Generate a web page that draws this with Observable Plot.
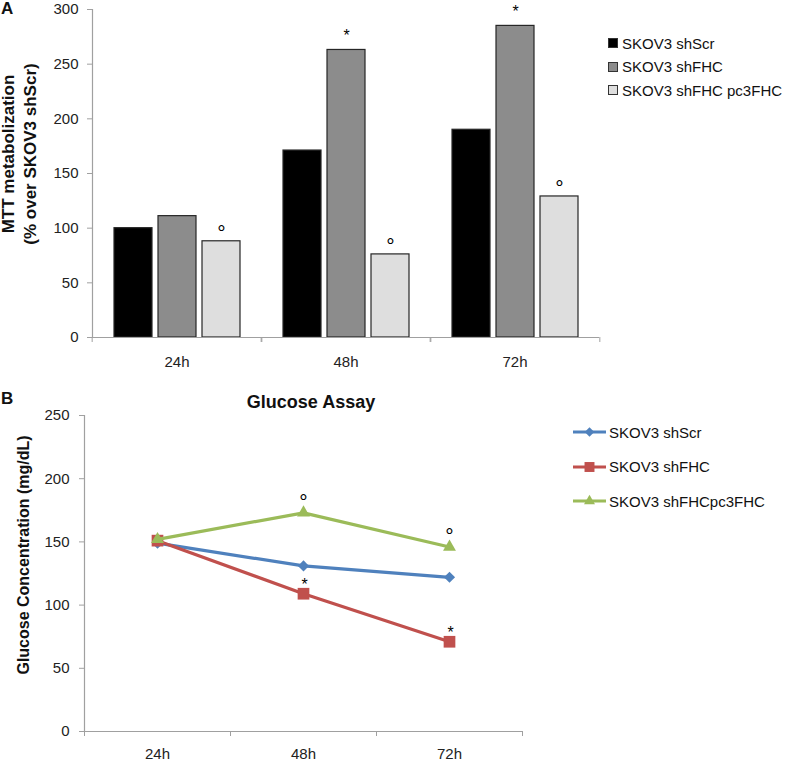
<!DOCTYPE html>
<html><head><meta charset="utf-8">
<script src="https://cdn.jsdelivr.net/npm/d3@7"></script>
<script src="https://cdn.jsdelivr.net/npm/@observablehq/plot@0.6"></script>
<style>
body{margin:0;background:#fff;font-family:"Liberation Sans",Arial,sans-serif;color:#111;}
#root{position:relative;width:787px;height:761px;overflow:hidden;background:#fff;}
.abs{position:absolute;white-space:pre;}
.rot{position:absolute;white-space:pre;text-align:center;transform:translate(-50%,-50%) rotate(-90deg);font-weight:bold;}
.leg{position:absolute;font-size:15px;display:flex;align-items:center;white-space:pre;}
</style></head><body><div id="root"></div>
<script>
// ---------- data ----------
const times = ["24h", "48h", "72h"];

// Panel A: MTT metabolization (% over SKOV3 shScr)
const mttSeries = ["SKOV3 shScr", "SKOV3 shFHC", "SKOV3 shFHC pc3FHC"];
const mttShScr = [100, 171, 190];
const mttShFHC = [111, 263, 285];
const mttRescue = [88, 76, 129];
const mttYTicks = [0, 50, 100, 150, 200, 250, 300];
const mttNotes = [
  {time: "24h", s: 2, note: "°"},
  {time: "48h", s: 1, note: "*"},
  {time: "48h", s: 2, note: "°"},
  {time: "72h", s: 1, note: "*"},
  {time: "72h", s: 2, note: "°"}
];

// Panel B: Glucose assay (mg/dL)
const gluSeries = ["SKOV3 shScr", "SKOV3 shFHC", "SKOV3 shFHCpc3FHC"];
const gluShScr = [149, 131, 122];
const gluShFHC = [151, 109, 71];
const gluRescue = [152, 173, 146];
const gluYTicks = [0, 50, 100, 150, 200, 250];
const gluNotes = [
  {time: "48h", s: 2, note: "°"},
  {time: "72h", s: 2, note: "°"},
  {time: "48h", s: 1, note: "*"},
  {time: "72h", s: 1, note: "*"}
];

// ---------- styles ----------
const barColors = ["#000000", "#8c8c8c", "#dedede"];
const lineColors = ["#4f81bd", "#c0504d", "#9bbb59"];
const lineSymbols = ["diamond2", "square", "triangle"];
const axisGray = "#a0a0a0";
const font = "Liberation Sans, Arial, sans-serif";

const root = document.getElementById("root");

// ---------- Panel A ----------
const mttValues = [mttShScr, mttShFHC, mttRescue];
const barData = times.flatMap((t, i) => mttSeries.map((s, k) => ({time: t, series: s, value: mttValues[k][i]})));
const mttNoteData = mttNotes.map(d => ({time: d.time, series: mttSeries[d.s], note: d.note, value: mttValues[d.s][times.indexOf(d.time)]}));

const wA = 787, mlA = 91, mrA = 187;
const halfA = (wA - mlA - mrA) / times.length / 2;

const plotA = Plot.plot({
  width: wA, height: 380, marginTop: 9, marginBottom: 43, marginLeft: mlA, marginRight: mrA,
  style: {fontFamily: font, fontSize: "15px", color: "#222", background: "transparent", overflow: "visible"},
  fx: {domain: times, padding: 0, label: null, axis: null},
  x: {domain: mttSeries, paddingInner: 0.146, paddingOuter: 0.472, axis: null},
  y: {domain: [0, 300], axis: null},
  color: {domain: mttSeries, range: barColors},
  marks: [
    Plot.barY(barData, {fx: "time", x: "series", y: "value", fill: "series", stroke: "#262626", strokeWidth: 1.2}),
    Plot.ruleY([0], {stroke: axisGray, strokeWidth: 1.2}),
    Plot.frame({anchor: "left", facetAnchor: "left", stroke: axisGray, strokeWidth: 1.2}),
    Plot.axisY({ticks: mttYTicks, tickSize: 5, tickPadding: 9, label: null, stroke: axisGray, fill: "#222"}),
    Plot.axisFx({anchor: "bottom", tickSize: 0, tickPadding: 19, label: null, fill: "#222"}),
    Plot.axisFx({anchor: "bottom", tickSize: 5, tickFormat: () => "", label: null, dx: -halfA, stroke: axisGray}),
    Plot.axisFx({anchor: "bottom", tickSize: 5, tickFormat: () => "", label: null, dx: halfA, stroke: axisGray}),
    Plot.text(mttNoteData.filter(d => d.note === "*"), {fx: "time", x: "series", y: "value", text: "note", dy: -14, fontSize: 16, fill: "#000"}),
    Plot.text(mttNoteData.filter(d => d.note === "°"), {fx: "time", x: "series", y: "value", text: "note", dy: -8, fontSize: 21, fill: "#000"})
  ]
});
plotA.style.position = "absolute";
plotA.style.left = "0px";
plotA.style.top = "0px";
root.appendChild(plotA);

// ---------- Panel B ----------
const gluValues = [gluShScr, gluShFHC, gluRescue];
const lineData = gluSeries.flatMap((s, k) => times.map((t, i) => ({time: t, series: s, value: gluValues[k][i]})));
const gluNoteData = gluNotes.map(d => ({time: d.time, series: gluSeries[d.s], note: d.note, value: gluValues[d.s][times.indexOf(d.time)]}));

const wB = 787, mlB = 84, mrB = 265;
const halfB = (wB - mlB - mrB) / times.length / 2;
const dotR = [5, 6.6, 4.8];

const seriesMarks = gluSeries.flatMap((s, k) => {
  const d = lineData.filter(e => e.series === s);
  return [
    Plot.line(d, {x: "time", y: "value", stroke: lineColors[k], strokeWidth: 3.2}),
    Plot.dot(d, {x: "time", y: "value", symbol: () => lineSymbols[k], fill: lineColors[k], r: dotR[k], stroke: "none"})
  ];
});

const plotB = Plot.plot({
  width: wB, height: 381, marginTop: 35, marginBottom: 30, marginLeft: mlB, marginRight: mrB,
  style: {fontFamily: font, fontSize: "15px", color: "#222", background: "transparent", overflow: "visible"},
  x: {domain: times, type: "point", padding: 0.5, axis: null},
  y: {domain: [0, 250], axis: null},
  symbol: {type: "identity"},
  marks: [
    Plot.ruleY([0], {stroke: axisGray, strokeWidth: 1.2}),
    Plot.frame({anchor: "left", stroke: axisGray, strokeWidth: 1.2}),
    Plot.axisY({ticks: gluYTicks, tickSize: 5, tickPadding: 10, label: null, stroke: axisGray, fill: "#222"}),
    Plot.axisX({tickSize: 0, tickPadding: 17, label: null, fill: "#222"}),
    Plot.axisX({tickSize: 5, tickFormat: () => "", label: null, dx: -halfB, stroke: axisGray}),
    Plot.axisX({tickSize: 5, tickFormat: () => "", label: null, dx: halfB, stroke: axisGray}),
    ...seriesMarks,
    Plot.text(gluNoteData.filter(d => d.note === "°"), {x: "time", y: "value", text: "note", dy: -11, fontSize: 21, fill: "#000"}),
    Plot.text(gluNoteData.filter(d => d.note === "*"), {x: "time", y: "value", text: "note", dy: -9, dx: 1, fontSize: 16, fill: "#000"})
  ]
});
plotB.style.position = "absolute";
plotB.style.left = "0px";
plotB.style.top = "380px";
root.appendChild(plotB);

// ---------- text overlays ----------
function addText(txt, left, top, css) {
  const el = document.createElement("div");
  el.className = "abs";
  el.textContent = txt;
  el.style.left = left + "px";
  el.style.top = top + "px";
  Object.assign(el.style, css || {});
  root.appendChild(el);
  return el;
}
function addRot(txt, cx, cy, css) {
  const el = document.createElement("div");
  el.className = "rot";
  el.textContent = txt;
  el.style.left = cx + "px";
  el.style.top = cy + "px";
  Object.assign(el.style, css || {});
  root.appendChild(el);
  return el;
}

addText("A", 1, -1, {fontWeight: "bold", fontSize: "17px"});
addText("B", 1, 389, {fontWeight: "bold", fontSize: "17px"});
addRot("MTT metabolization\n(% over SKOV3 shScr)", 20, 154, {fontSize: "17px", lineHeight: "22px"});
addRot("Glucose Concentration (mg/dL)", 24, 555, {fontSize: "16px"});
addText("Glucose Assay", 311, 392, {fontWeight: "bold", fontSize: "18px", transform: "translateX(-50%)"});

// Legend A
mttSeries.forEach((s, k) => {
  const row = document.createElement("div");
  row.className = "leg";
  row.style.left = "608px";
  row.style.top = (34 + k * 23.5) + "px";
  row.style.height = "18px";
  const sw = document.createElement("span");
  sw.style.cssText = `display:inline-block;width:8px;height:8px;background:${barColors[k]};border:1px solid #333;margin-right:4px;`;
  const tx = document.createElement("span");
  tx.textContent = s;
  row.appendChild(sw); row.appendChild(tx);
  root.appendChild(row);
});

// Legend B
gluSeries.forEach((s, k) => {
  const row = document.createElement("div");
  row.className = "leg";
  row.style.left = "573px";
  row.style.top = (423 + k * 34.5) + "px";
  row.style.height = "18px";
  const svg = d3.create("svg").attr("width", 34).attr("height", 14).style("margin-right", "2px");
  svg.append("line").attr("x1", 0).attr("x2", 33).attr("y1", 7).attr("y2", 7)
    .attr("stroke", lineColors[k]).attr("stroke-width", 3);
  const symMap = {diamond2: d3.symbolDiamond2, square: d3.symbolSquare, triangle: d3.symbolTriangle};
  svg.append("path").attr("transform", "translate(16.5,7)")
    .attr("d", d3.symbol(symMap[lineSymbols[k]], Math.PI * (dotR[k] * 0.85) ** 2)())
    .attr("fill", lineColors[k]);
  const tx = document.createElement("span");
  tx.textContent = s;
  row.appendChild(svg.node()); row.appendChild(tx);
  root.appendChild(row);
});
</script>
</body></html>
